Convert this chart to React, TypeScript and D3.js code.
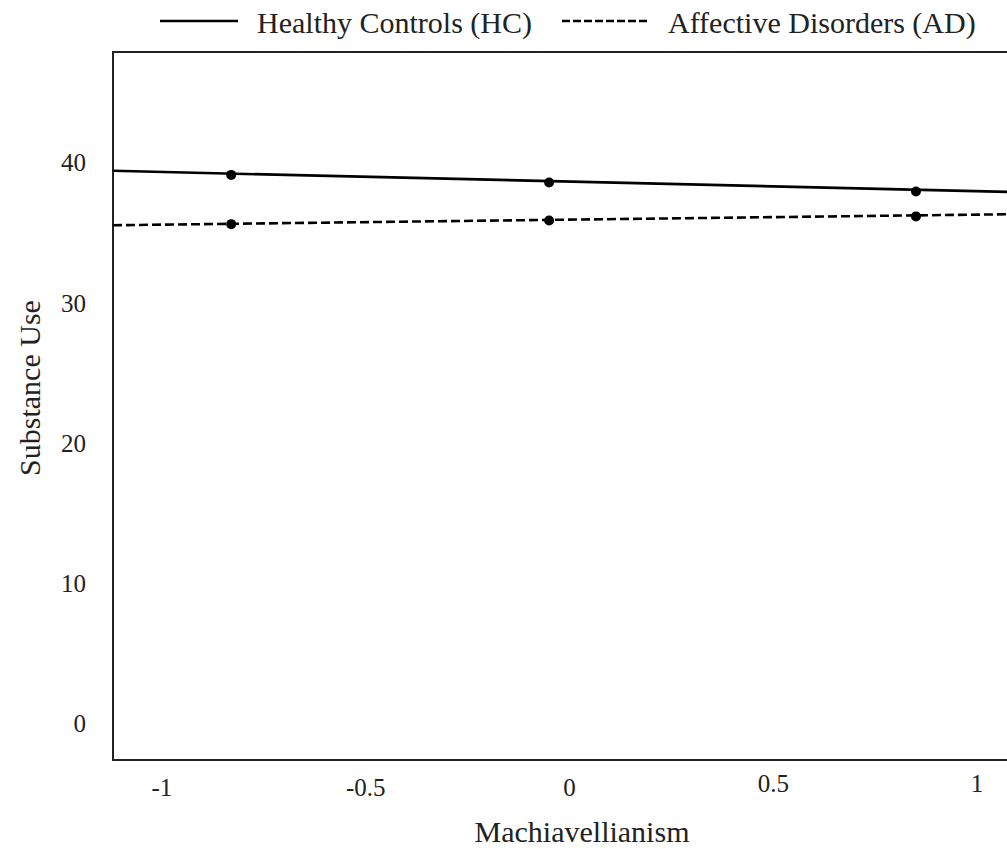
import React from 'react';
import * as d3 from 'd3';

// regression lines drawn across the full x range
const lineX = [-1.12, 1.12];
const hcLine = [39.43, 37.9];
const adLine = [35.55, 36.35];

// simple slopes at -1 SD, mean, +1 SD
const pointX = [-0.83, -0.05, 0.85];
const hcPoints = [39.14, 38.6, 37.95];
const adPoints = [35.63, 35.89, 36.18];

const xTicks = [-1, -0.5, 0, 0.5, 1];
const yTicks = [0, 10, 20, 30, 40];

const series = [
  { name: 'Healthy Controls (HC)', line: hcLine, points: hcPoints, dash: null },
  { name: 'Affective Disorders (AD)', line: adLine, points: adPoints, dash: '9,4' },
];

const W = 1007;
const H = 849;
const font = '"Liberation Serif", "Times New Roman", serif';

const App = () => {
  const margin = { left: 113, top: 52, bottom: 760, right: 1026 };

  const x = d3.scaleLinear().domain([-1.12, 1.12]).range([margin.left, margin.right]);
  const y = d3.scaleLinear().domain([-2.57, 47.9]).range([margin.bottom, margin.top]);

  const line = d3.line<[number, number]>()
    .x(d => x(d[0]))
    .y(d => y(d[1]));

  return (
    <svg width={W} height={H} style={{ position: 'absolute', left: 0, top: 0, background: '#fff' }}
      fontFamily={font}>
      {/* plot frame: top, left, bottom (right edge falls off the page) */}
      <path d={`M${margin.right},${margin.top}H${margin.left}V${margin.bottom}H${margin.right}`}
        fill="none" stroke="#222" strokeWidth={2} />

      {yTicks.map(t => (
        <text key={t} x={86} y={y(t)} dy="0.34em" textAnchor="end" fontSize={25} fill="#222">{t}</text>
      ))}
      {xTicks.map(t => (
        <text key={t} x={x(t)} y={t > 0 ? 792 : 796} textAnchor="middle" fontSize={25} fill="#222">{t}</text>
      ))}

      {series.map(s => (
        <g key={s.name}>
          <path d={line(lineX.map((v, i) => [v, s.line[i]]) as [number, number][]) || ''}
            fill="none" stroke="#000" strokeWidth={2.6} strokeDasharray={s.dash || undefined} />
          {pointX.map((v, i) => (
            <circle key={i} cx={x(v)} cy={y(s.points[i])} r={5} fill="#000" />
          ))}
        </g>
      ))}

      <text x={582} y={842} textAnchor="middle" fontSize={30} fill="#222">Machiavellianism</text>
      <text transform={`translate(40,388) rotate(-90)`} textAnchor="middle" fontSize={30} fill="#222">Substance Use</text>

      {/* legend */}
      <line x1={160} x2={238} y1={21} y2={21} stroke="#000" strokeWidth={2.6} />
      <text x={257} y={33} fontSize={30} fill="#222">{series[0].name}</text>
      <line x1={562} x2={648} y1={21} y2={21} stroke="#000" strokeWidth={2.6} strokeDasharray="8,3" />
      <text x={668} y={33} fontSize={30} fill="#222">{series[1].name}</text>
    </svg>
  );
};

export default App;
